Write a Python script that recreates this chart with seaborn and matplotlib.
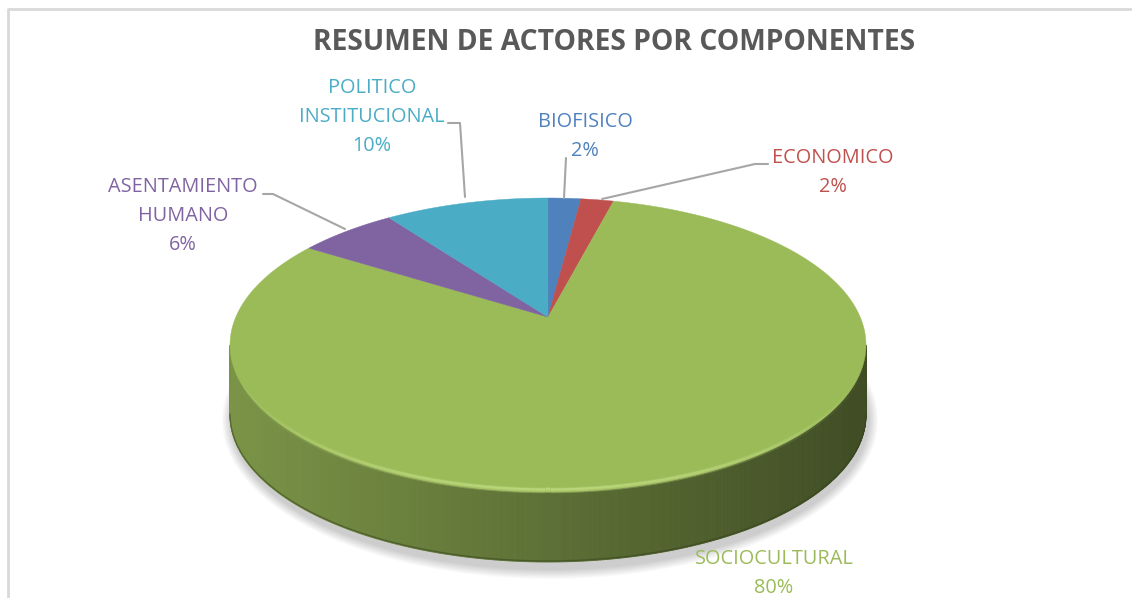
import numpy as np
import matplotlib
matplotlib.use("Agg")
import matplotlib.pyplot as plt
import seaborn as sns
from matplotlib.collections import PolyCollection, LineCollection
from matplotlib.patches import Ellipse
from matplotlib.colors import to_rgb

# ---------------- data ----------------
categories = ["BIOFISICO", "ECONOMICO", "SOCIOCULTURAL",
              "ASENTAMIENTO HUMANO", "POLITICO INSTITUCIONAL"]
values = [2, 2, 80, 6, 10]
label_lines = [["BIOFISICO"], ["ECONOMICO"], ["SOCIOCULTURAL"],
               ["ASENTAMIENTO", "HUMANO"], ["POLITICO", "INSTITUCIONAL"]]
title = "RESUMEN DE ACTORES POR COMPONENTES"

# ---------------- style ----------------
sns.set_theme(style="white")
colors = ["#4F81BD", "#C0504D", "#9BBB59", "#8064A2", "#4BACC6"]
palette = sns.color_palette(colors)
plt.rcParams['font.family'] = ['Open Sans', 'DejaVu Sans']

fig = plt.figure(figsize=(11.32, 5.98), dpi=100)
ax = fig.add_axes([0, 0, 1, 1])
ax.set_xlim(0, 1132)
ax.set_ylim(598, 0)
ax.axis('off')

# chart border (Excel chart area)
ax.plot([8, 8, 1132], [598, 9, 9], color="#D9D9D9", lw=2, solid_capstyle='butt', zorder=1)

# geometry of the 3-D disc (layout)
CX, CY, A, B, H = 548, 345, 318, 147, 70
S = np.arctanh(0.19)          # perspective shift of the pie centre
sh, ch = np.sinh(S), np.cosh(S)


def project(theta_deg, r=1.0):
    t = np.radians(theta_deg)
    x, y = r * np.sin(t), r * np.cos(t)
    den = sh * y + ch
    X = x / den
    Y = (ch * y + sh) / den
    return CX + A * X, CY - B * Y


def unproject_angle(Xm, Ym):
    den = -sh * Ym + ch
    x = Xm / den
    y = (ch * Ym - sh) / den
    return np.degrees(np.arctan2(x, y)) % 360


total = float(sum(values))
bounds = np.concatenate([[0], np.cumsum(values)]) / total * 360

# ---------------- shadow ----------------
for k in range(10):
    e = Ellipse((CX + 2, CY + H + 5), 2 * A + 2 + 2.0 * k, 2 * B + 6 + 2.0 * k,
                facecolor="#000000", alpha=0.018, lw=0, zorder=2)
    ax.add_patch(e)

# ---------------- side wall ----------------
phis = np.linspace(180, 360, 361)
polys, fcols = [], []
for p0, p1 in zip(phis[:-1], phis[1:]):
    r0, r1 = np.radians(p0), np.radians(p1)
    x0, y0 = CX + A * np.cos(r0), CY - B * np.sin(r0)
    x1, y1 = CX + A * np.cos(r1), CY - B * np.sin(r1)
    polys.append([(x0, y0), (x1, y1), (x1, y1 + H), (x0, y0 + H)])
    pm = np.radians(0.5 * (p0 + p1))
    th = unproject_angle(np.cos(pm), np.sin(pm))
    idx = min(np.searchsorted(bounds, th, side='right') - 1, len(values) - 1)
    f = 0.60 - 0.19 * np.cos(pm)
    base = np.array(to_rgb(palette[idx]))
    fcols.append(tuple(np.clip(base * f, 0, 1)))
pc = PolyCollection(polys, facecolors=fcols, edgecolors=fcols, linewidths=0.6, zorder=3)
ax.add_collection(pc)

# bottom edge darker rim
rb = np.radians(np.linspace(180, 360, 200))
ax.plot(CX + A * np.cos(rb), CY - B * np.sin(rb) + H - 1, color="#33401C", lw=1.0, alpha=0.5, zorder=4)

# ---------------- top face ----------------
for i, v in enumerate(values):
    th = np.linspace(bounds[i], bounds[i + 1], max(3, int((bounds[i + 1] - bounds[i]) * 2)))
    xs, ys = project(th)
    ax_, ay_ = project(0, r=0.0)
    px = np.concatenate([[ax_], xs])
    py = np.concatenate([[ay_], ys])
    ax.fill(px, py, color=palette[i], lw=0.3, ec=palette[i], zorder=5)

# soft bevel highlight along the front edge
ph = np.linspace(182, 358, 200)
rp = np.radians(ph)
hl = np.array(to_rgb("#C4DF86"))
for off, lw, amax in [(1.5, 4.0, 0.35), (2.5, 1.6, 0.6)]:
    hx = CX + A * np.cos(rp)
    hy = CY - B * np.sin(rp) - off * np.abs(np.sin(rp))
    segs = [[(hx[j], hy[j]), (hx[j + 1], hy[j + 1])] for j in range(len(ph) - 1)]
    alphas = np.clip(np.sin(np.radians(ph[:-1] - 180)), 0, 1) ** 2 * amax
    segcols = [(*hl, a) for a in alphas]
    ax.add_collection(LineCollection(segs, colors=segcols, linewidths=lw, zorder=6))

# ---------------- labels ----------------
label_pos = [(585, 122), (833, 158), (774, 559), (183, 187), (372, 88)]
LS = 28.8
for i, v in enumerate(values):
    lx, ly = label_pos[i]
    lines = label_lines[i] + [f"{v}%"]
    for j, t in enumerate(lines):
        ax.text(lx, ly + j * LS, t, color=palette[i], fontsize=14.3,
                ha='center', va='center', zorder=8)

# leader lines
lc = "#A6A6A6"
leaders = [
    [(566, 158), (564, 198)],
    [(768, 164), (755, 164), (602, 199)],
    [(263, 194), (273, 194), (345, 229)],
    [(448, 123), (460, 123), (465, 197)],
]
for seg in leaders:
    xs, ys = zip(*seg)
    ax.plot(xs, ys, color=lc, lw=1.5, zorder=7)

# ---------------- title ----------------
ax.text(614, 43, title, color="#595959", fontsize=20.3, fontweight='bold',
        ha='center', va='center', zorder=8)

fig.savefig("out.png", dpi=100)
